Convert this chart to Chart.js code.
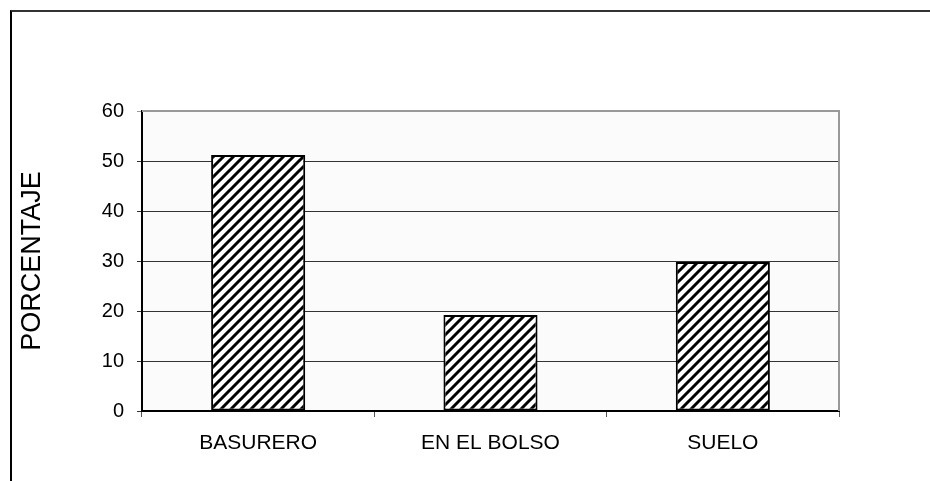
<!DOCTYPE html>
<html>
<head>
<meta charset="utf-8">
<script src="https://cdn.jsdelivr.net/npm/chart.js@4/dist/chart.umd.min.js"></script>
<style>
  html, body { margin: 0; padding: 0; background: #fff; overflow: hidden; }
  #wrap { position: relative; width: 930px; height: 481px; }
  #frame { position: absolute; left: 10px; top: 10px; width: 940px; height: 500px;
           border-top: 2px solid #333; border-left: 2px solid #000; box-sizing: border-box; pointer-events: none; }
  canvas { position: absolute; left: 0; top: 0; }
</style>
</head>
<body>
<div id="wrap">
  <canvas id="c" width="930" height="481"></canvas>
  <div id="frame"></div>
</div>
<script>
const categories = ['BASURERO', 'EN EL BOLSO', 'SUELO'];
const porcentaje = [51.2, 19.2, 29.8];
const yTicks = [0, 10, 20, 30, 40, 50, 60];
const yTitle = 'PORCENTAJE';

function makeHatch() {
  const s = 10;
  const p = document.createElement('canvas');
  p.width = s; p.height = s;
  const g = p.getContext('2d');
  g.fillStyle = '#fff';
  g.fillRect(0, 0, s, s);
  g.strokeStyle = '#000';
  g.lineWidth = 3;
  g.beginPath();
  g.moveTo(-2, s + 2); g.lineTo(s + 2, -2);
  g.moveTo(-s/2 - 2, s/2 + 2); g.lineTo(s/2 + 2, -s/2 - 2);
  g.moveTo(s/2 - 2, s * 1.5 + 2); g.lineTo(s * 1.5 + 2, s/2 - 2);
  g.stroke();
  return document.getElementById('c').getContext('2d').createPattern(p, 'repeat');
}

const plotFrame = {
  id: 'plotFrame',
  beforeDraw(chart) {
    const a = chart.chartArea, ctx = chart.ctx;
    ctx.save();
    ctx.fillStyle = '#fbfbfb';
    ctx.fillRect(a.left, a.top, a.right - a.left, a.bottom - a.top);
    ctx.restore();
  },
  afterDatasetsDraw(chart) {
    const a = chart.chartArea, ctx = chart.ctx;
    ctx.save();
    ctx.strokeStyle = '#999';
    ctx.lineWidth = 2;
    ctx.beginPath();
    ctx.moveTo(a.left, a.top);
    ctx.lineTo(a.right, a.top);
    ctx.lineTo(a.right, a.bottom);
    ctx.stroke();
    ctx.restore();
  }
};

Chart.defaults.font.family = '"Liberation Sans", Arial, sans-serif';
Chart.defaults.color = '#000';

new Chart(document.getElementById('c'), {
  type: 'bar',
  data: {
    labels: categories,
    datasets: [{
      data: porcentaje,
      backgroundColor: makeHatch(),
      borderColor: '#000',
      borderWidth: 2,
      borderSkipped: false,
      categoryPercentage: 1,
      barPercentage: 0.405
    }]
  },
  options: {
    responsive: false,
    animation: false,
    devicePixelRatio: 1,
    layout: { padding: { left: 0, top: 111, right: 91, bottom: 0 } },
    plugins: { legend: { display: false }, tooltip: { enabled: false } },
    scales: {
      x: {
        afterFit(s) { s.height = 70; },
        grid: { offset: true, drawOnChartArea: false, drawTicks: true, tickLength: 6, color: '#555', lineWidth: 1 },
        border: { color: '#000', width: 2 },
        ticks: { font: { size: 21 }, padding: 14, color: '#000', maxRotation: 0 }
      },
      y: {
        min: 0, max: 60,
        afterFit(s) { s.width = 142; },
        afterBuildTicks(s) { s.ticks = yTicks.map(v => ({ value: v })); },
        grid: {
          color: ctx => (ctx.tick && ctx.tick.value === 60) ? '#999' : '#333',
          lineWidth: 1, drawTicks: true, tickLength: 5
        },
        border: { color: '#000', width: 2 },
        ticks: { font: { size: 20 }, padding: 13, color: '#000' },
        title: { display: true, text: yTitle, font: { size: 27 }, color: '#000', padding: { top: 16, bottom: 0 } }
      }
    }
  },
  plugins: [plotFrame]
});
</script>
</body>
</html>
